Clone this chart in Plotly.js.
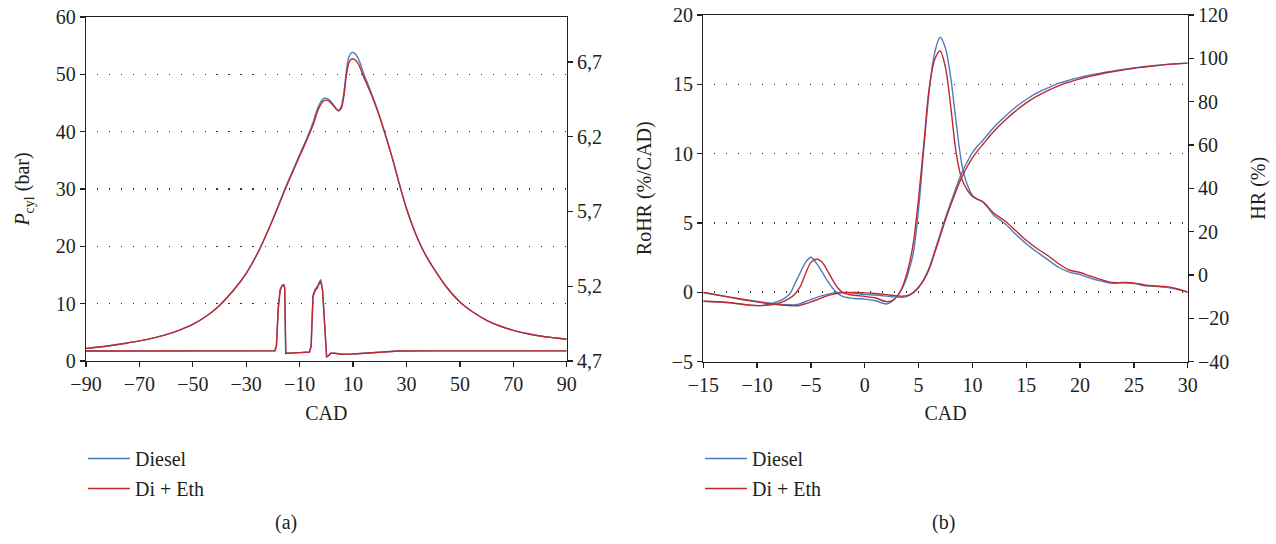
<!DOCTYPE html>
<html>
<head>
<meta charset="utf-8">
<script src="https://cdn.plot.ly/plotly-3.0.1.min.js"></script>
<style>html,body{margin:0;padding:0;background:#fff;}#chart{width:1276px;height:544px;}</style>
</head>
<body>
<div id="chart"></div>
<script>
// ---------- Panel (a): cylinder pressure ----------
const cadP = [-90,-85,-80,-75,-70,-65,-60,-55,-50,-45,-40,-35,-30,-25,-20,-15,-10,-7,-5,-3,-1,0,1,2.5,4.5,5.5,6.5,7.5,8.5,9.5,10.5,12,14,16,18,20,22.5,25,27.5,30,32.5,35,37.5,40,45,50,55,60,65,70,75,80,85,90];
const pDiesel = [2.2,2.45,2.75,3.1,3.5,4.0,4.6,5.4,6.4,7.8,9.7,12.2,15.3,19.5,24.8,30.6,36.0,39.2,41.6,44.4,45.8,45.8,45.6,44.8,43.7,44.3,46.6,50.6,53.1,53.8,53.7,52.7,50.1,47.8,45.3,42.6,38.9,34.9,30.6,26.6,23.3,20.5,18.2,16.3,12.9,10.3,8.5,7.1,6.1,5.35,4.8,4.35,4.05,3.8];
const pDiEth  = [2.2,2.45,2.75,3.1,3.5,4.0,4.6,5.4,6.4,7.8,9.7,12.2,15.3,19.5,24.7,30.4,35.7,38.9,41.1,43.9,45.4,45.5,45.3,44.6,43.6,44.0,46.0,49.8,52.1,52.7,52.6,51.8,49.5,47.4,45.1,42.5,38.8,34.9,30.6,26.6,23.3,20.5,18.2,16.3,12.9,10.3,8.5,7.1,6.1,5.35,4.8,4.35,4.05,3.8];

// injection signal (right axis of panel a)
const cadInj = [-90,-19.3,-18.7,-18.0,-17.3,-16.6,-16.0,-15.6,-15.2,-14.6,-10,-6.3,-5.7,-5.0,-4.2,-3.3,-2.6,-2.1,-1.4,-0.6,0.1,0.8,1.6,3,6,10,16,22,27,40,90];
const injDiesel = [4.767,4.768,4.80,5.06,5.18,5.205,5.21,5.19,4.75,4.752,4.756,4.760,4.80,5.14,5.18,5.20,5.23,5.245,5.17,4.90,4.728,4.735,4.752,4.752,4.745,4.747,4.755,4.762,4.767,4.768,4.768];
const injDiEth  = [4.767,4.768,4.80,5.05,5.17,5.20,5.21,5.19,4.75,4.752,4.756,4.760,4.80,5.13,5.17,5.19,5.22,5.232,5.17,4.89,4.728,4.735,4.752,4.752,4.745,4.747,4.755,4.762,4.767,4.768,4.768];

// ---------- Panel (b): RoHR and HR ----------
const cadR = [-15,-12.5,-11,-9.5,-8,-7,-6.5,-6,-5.5,-5,-4.5,-4,-3.5,-3,-2.5,-2,-1,0,1,2,2.5,3,3.5,4,4.5,5,5.5,6,6.5,7,7.5,8,8.5,9,9.5,10,10.5,11,12,13,14,15,16,17,18,19,20,21,22,23,24,25,26,27,28,29,30];
const rohrDiesel = [-0.65,-0.75,-0.93,-0.95,-0.65,-0.15,0.6,1.4,2.15,2.52,2.1,1.5,0.85,0.3,-0.1,-0.32,-0.45,-0.5,-0.62,-0.85,-0.68,-0.3,0.3,1.3,2.8,6.0,10.5,14.6,17.3,18.4,17.6,15.4,12.2,9.3,7.8,7.0,6.7,6.5,5.55,4.95,4.2,3.5,2.9,2.35,1.8,1.45,1.27,1.0,0.8,0.65,0.67,0.62,0.47,0.42,0.35,0.2,0.0];
const rohrDiEth  = [-0.65,-0.76,-0.9,-0.97,-0.8,-0.45,-0.15,0.4,1.35,2.15,2.4,2.2,1.6,0.9,0.3,-0.05,-0.22,-0.3,-0.42,-0.68,-0.62,-0.3,0.4,1.6,3.5,6.8,10.8,14.8,16.8,17.4,16.2,13.3,10.0,8.2,7.4,6.9,6.7,6.5,5.7,5.15,4.45,3.75,3.15,2.65,2.05,1.6,1.42,1.15,0.9,0.7,0.7,0.67,0.52,0.45,0.4,0.25,0.0];
const hrDiesel = [-8.15,-10.3,-11.5,-12.6,-13.5,-13.8,-13.8,-13.3,-12.3,-11.4,-10.5,-9.7,-9.0,-8.4,-8.15,-8.1,-8.5,-9.0,-9.3,-9.8,-10.1,-10.2,-10.3,-9.8,-8.2,-5.6,-1.9,3.5,11.0,18.8,26.5,33.5,40.6,46.9,52.0,56.5,59.6,62.3,68.2,73.0,77.4,81.0,84.0,86.3,88.4,89.9,91.2,92.3,93.3,94.1,94.9,95.6,96.2,96.7,97.2,97.5,97.8];
const hrDiEth  = [-8.15,-10.4,-11.7,-12.9,-13.8,-14.2,-14.3,-14.0,-13.3,-12.5,-11.6,-10.6,-9.7,-9.0,-8.5,-8.2,-8.1,-8.3,-8.6,-9.1,-9.4,-9.7,-9.8,-9.5,-8.2,-5.8,-2.3,2.8,10.2,17.8,25.5,32.4,39.0,45.0,49.8,54.0,57.4,60.4,66.3,71.3,75.6,79.4,82.5,85.1,87.3,89.0,90.5,91.8,92.9,93.8,94.6,95.4,96.0,96.6,97.1,97.5,97.8];

const seriesNames = ['Diesel','Di + Eth'];
const captions = ['(a)','(b)'];

const BLUE = '#4a7ebb', RED = '#c0282d';
const FONT = {family: 'Liberation Serif, DejaVu Serif, serif', size: 20, color: '#231f20'};
const LW = 1.4;

function tr(x, y, xa, ya, name, color, show, leg, smooth){
  return {x: x, y: y, xaxis: xa, yaxis: ya, name: name, type: 'scatter', mode: 'lines',
    line: {color: color, width: LW, shape: smooth ? 'spline' : 'linear', smoothing: 0.9},
    showlegend: show, legend: leg, legendgroup: leg + name, hoverinfo: 'skip'};
}

const data = [
  tr(cadP, pDiesel, 'x', 'y', seriesNames[0], BLUE, true, 'legend', true),
  tr(cadInj, injDiesel, 'x', 'y2', seriesNames[0], BLUE, false, 'legend', false),
  tr(cadP, pDiEth, 'x', 'y', seriesNames[1], RED, true, 'legend', true),
  tr(cadInj, injDiEth, 'x', 'y2', seriesNames[1], RED, false, 'legend', false),
  tr(cadR, rohrDiesel, 'x2', 'y3', seriesNames[0], BLUE, true, 'legend2', true),
  tr(cadR, hrDiesel, 'x2', 'y4', seriesNames[0], BLUE, false, 'legend2', true),
  tr(cadR, rohrDiEth, 'x2', 'y3', seriesNames[1], RED, true, 'legend2', true),
  tr(cadR, hrDiEth, 'x2', 'y4', seriesNames[1], RED, false, 'legend2', true)
];

const W = 1276, H = 544;
const axBase = {
  showline: true, linecolor: '#231f20', linewidth: 1.3,
  ticks: 'outside', ticklen: 5, tickwidth: 1.3, tickcolor: '#231f20',
  tickfont: FONT, zeroline: false, showgrid: false, fixedrange: true
};
const gridStyle = {showgrid: true, gridcolor: '#333333', gridwidth: 1.5, griddash: '0px,10.5px,1.5px,0px'};

const legBase = {
  font: FONT, bgcolor: 'rgba(0,0,0,0)', borderwidth: 0, traceorder: 'grouped',
  tracegroupgap: 1, itemwidth: 42, xanchor: 'left', yanchor: 'top', itemclick: false
};

const layout = {
  width: W, height: H,
  margin: {l: 0, r: 0, t: 0, b: 0},
  paper_bgcolor: '#fff', plot_bgcolor: '#fff',
  font: FONT,
  separators: ',.',
  xaxis: Object.assign({}, axBase, {
    domain: [86/W, 566.7/W], range: [-90, 90], tick0: -90, dtick: 20, anchor: 'y', mirror: true,
    title: {text: 'CAD', font: FONT, standoff: 11}
  }),
  yaxis: Object.assign({}, axBase, gridStyle, {
    domain: [(H-361)/H, (H-17)/H], range: [0, 60], dtick: 10, anchor: 'x',
    title: {text: '<i>P</i><sub>cyl</sub> (bar)', font: FONT, standoff: 20}
  }),
  yaxis2: Object.assign({}, axBase, {
    overlaying: 'y', side: 'right', anchor: 'x', range: [4.7, 7.0], tick0: 4.7, dtick: 0.5, tickformat: '.1f'
  }),
  xaxis2: Object.assign({}, axBase, {
    domain: [703.3/W, 1187.7/W], range: [-15, 30], dtick: 5, anchor: 'y3', mirror: true,
    title: {text: 'CAD', font: FONT, standoff: 11}
  }),
  yaxis3: Object.assign({}, axBase, gridStyle, {
    domain: [(H-361.5)/H, (H-15)/H], range: [-5, 20], dtick: 5, anchor: 'x2',
    title: {text: 'RoHR (%/CAD)', font: FONT, standoff: 14}
  }),
  yaxis4: Object.assign({}, axBase, {
    overlaying: 'y3', side: 'right', anchor: 'x2', range: [-40, 120], dtick: 20,
    title: {text: 'HR (%)', font: FONT, standoff: 22}
  }),
  legend: Object.assign({}, legBase, {x: 83/W, y: (H-439)/H}),
  legend2: Object.assign({}, legBase, {x: 700/W, y: (H-439)/H}),
  annotations: [
    {text: captions[0], xref: 'paper', yref: 'paper', x: 286/W, y: (H-522)/H, xanchor: 'center', yanchor: 'middle', showarrow: false, font: FONT},
    {text: captions[1], xref: 'paper', yref: 'paper', x: 943/W, y: (H-522)/H, xanchor: 'center', yanchor: 'middle', showarrow: false, font: FONT}
  ]
};

Plotly.newPlot('chart', data, layout, {staticPlot: true, displayModeBar: false});
</script>
</body>
</html>
